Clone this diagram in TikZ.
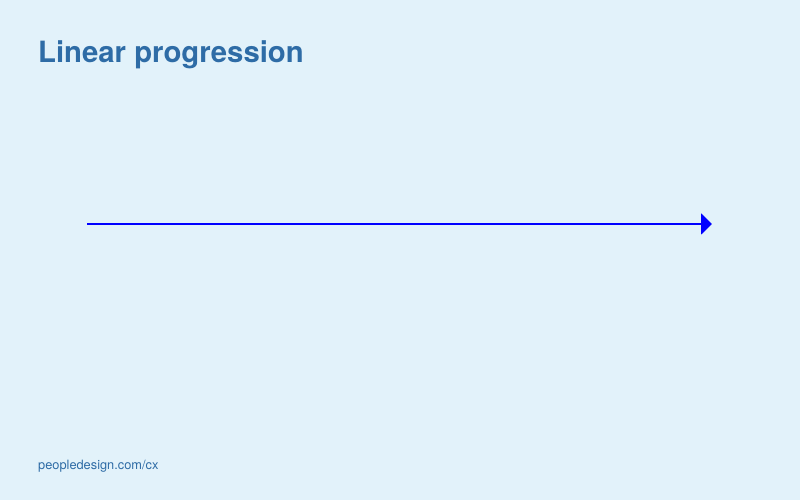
\documentclass[tikz,border=0pt]{standalone}
\usepackage{fontspec}
\setmainfont{TeX Gyre Heros}
\usetikzlibrary{arrows.meta}
\definecolor{bgblue}{HTML}{E2F2FA}
\definecolor{titleblue}{HTML}{2E6CA6}
\definecolor{arrowblue}{HTML}{0000FF}
\tikzset{
	title/.style={anchor=base west,inner sep=0pt,text=titleblue,font=\fontsize{29.3}{34}\selectfont\bfseries},
	footer/.style={anchor=base west,inner sep=0pt,text=titleblue,font=\fontsize{12.8}{15}\selectfont},
	progress/.style={draw=arrowblue,line width=2pt,-{Triangle[length=11pt,width=21pt]}}
}
\begin{document}
\begin{tikzpicture}[x=1pt,y=1pt]
	\fill[bgblue] (0,0) rectangle (800,500);
	\useasboundingbox (0,0) rectangle (800,500);
	\node[title] (head) at (38,437) {Linear progression};
	\node[footer] (site) at (38,30.5) {peopledesign.com/cx};
	\coordinate (start) at (87,276);
	\coordinate (finish) at (712,276);
	\draw[progress] (start) -- (finish);
\end{tikzpicture}
\end{document}
